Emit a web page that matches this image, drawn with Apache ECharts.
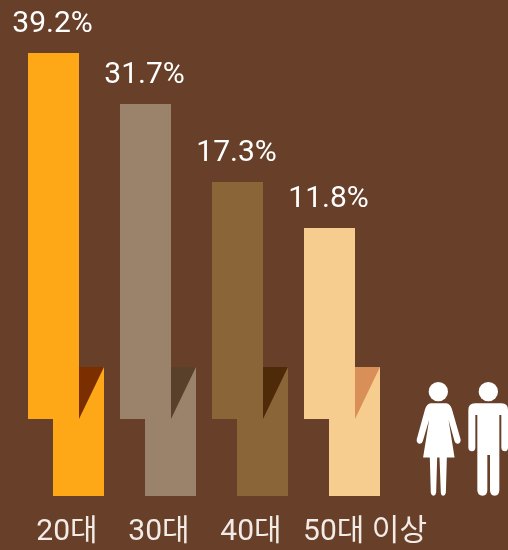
<!DOCTYPE html>
<html>
<head>
<meta charset="utf-8">
<style>html,body{margin:0;padding:0;background:#68402a}#chart{width:508px;height:550px}</style>
<script src="https://cdn.jsdelivr.net/npm/echarts@6/dist/echarts.min.js"></script>
</head>
<body>
<div id="chart"></div>
<script>
var categories = ['20대', '30대', '40대', '50대 이상'];
var percents = [39.2, 31.7, 17.3, 11.8];
// drawn heights above the baseline, the picture's bars are not to scale with the percents
var upperTop = [443, 392, 314, 268];
var upperBase = [77, 77, 77, 77];
var lowerTop = [129, 129, 129, 129];
var barColors = ['#fea818', '#9a836a', '#8a6537', '#f7cd8f'];
var foldColors = ['#7b2e00', '#58402a', '#4e2a08', '#d98f58'];

var chart = echarts.init(document.getElementById('chart'));

function renderStep(params, api) {
  var i = api.value(0);
  var band = api.size([1, 0])[0];
  var cx = api.coord([i, 0])[0];
  var top = api.coord([i, api.value(1)])[1];
  var base = api.coord([i, api.value(2)])[1];
  var foldTop = api.coord([i, api.value(3)])[1];
  var zero = api.coord([i, 0])[1];
  var w = 51;
  var step = band * 25 / 92;
  var x1 = cx - step / 2 - w / 2;
  var x2 = x1 + step;
  return {
    type: 'group',
    children: [
      { type: 'rect', shape: { x: x2, y: foldTop, width: w, height: zero - foldTop }, style: { fill: barColors[i] } },
      { type: 'polygon', shape: { points: [[x1 + w, foldTop], [x2 + w, foldTop], [x1 + w, base]] }, style: { fill: foldColors[i] } },
      { type: 'rect', shape: { x: x1, y: top, width: w, height: base - top }, style: { fill: barColors[i] } },
      {
        type: 'text',
        style: {
          x: x1 + w / 2 - 1, y: top - 14,
          text: percents[i].toFixed(1) + '%',
          fill: '#ffffff',
          font: '400 30px Roboto, sans-serif',
          align: 'center', verticalAlign: 'bottom'
        }
      }
    ]
  };
}

// woman and man pictograms, drawn in 3x units
function renderPeople() {
  return {
    type: 'group',
    x: 400,
    y: 370,
    scaleX: 1 / 3,
    scaleY: 1 / 3,
    children: [
      { type: 'circle', shape: { cx: 115, cy: 65, r: 29 }, style: { fill: '#fff' } },
      { type: 'path', shape: { pathData: 'M92 101 L138 101 Q150 103 155 118 L181 208 Q183 218 173 222 Q166 223 163 214 L145 150 L163 263 L140 263 L137 368 Q135 377 129 377 Q123 377 122 368 L118 263 L111 263 L108 368 Q106 377 100 377 Q94 377 92 368 L89 263 L69 263 L87 150 L68 214 Q65 223 58 222 Q48 218 50 208 L75 118 Q80 103 92 101 Z', layout: 'center', x: 49, y: 100, width: 134, height: 277 }, style: { fill: '#fff' } },
      { type: 'circle', shape: { cx: 265, cy: 65, r: 29 }, style: { fill: '#fff' } },
      { type: 'path', shape: { pathData: 'M225 100 L305 100 Q324 100 324 120 L324 232 Q324 244 315 244 Q304 244 304 232 L304 135 L298 135 L298 360 Q298 377 284 377 Q270 377 270 360 L270 255 L262 255 L262 360 Q262 377 248 377 Q232 377 232 360 L232 135 L226 135 L226 232 Q226 244 216 244 Q205 244 205 232 L205 120 Q205 100 225 100 Z', layout: 'center', x: 205, y: 100, width: 119, height: 277 }, style: { fill: '#fff' } }
    ]
  };
}

var option = {
  backgroundColor: '#68402a',
  animation: false,
  grid: { left: 20, width: 368, top: 0, height: 496 },
  xAxis: {
    type: 'category',
    data: categories.map(function (name, i) {
      if (i == 3) {
        return { value: name, textStyle: { padding: [0, 0, 0, 46] } };
      }
      return { value: name, textStyle: { padding: [0, 0, 0, 2] } };
    }),
    axisLine: { show: false },
    axisTick: { show: false },
    axisLabel: {
      interval: 0,
      margin: 21,
      color: '#f2ebe6',
      fontSize: 30,
      fontFamily: 'Roboto, "Noto Sans CJK KR", sans-serif'
    }
  },
  yAxis: {
    type: 'value',
    min: 0,
    max: 496,
    show: false
  },
  series: [{
    type: 'custom',
    renderItem: renderStep,
    encode: { x: 0, y: 1 },
    data: categories.map(function (name, i) {
      return [i, upperTop[i], upperBase[i], lowerTop[i]];
    })
  }, {
    type: 'custom',
    renderItem: renderPeople,
    silent: true,
    clip: false,
    data: [[0, 0]]
  }]
};
chart.setOption(option);
</script>
</body>
</html>
